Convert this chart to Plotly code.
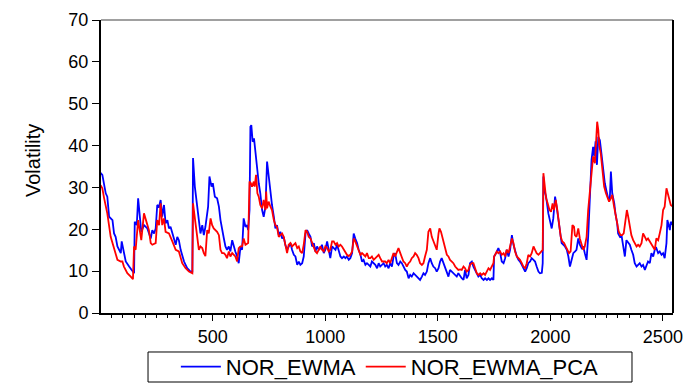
import plotly.graph_objects as go

# NOR_EWMA (blue) - observation index and volatility
ewma_obs = [1, 9, 24, 31, 39, 54, 61, 68, 76, 83, 91, 95, 105, 113, 128, 142, 150, 153, 162, 168,
            176, 182, 194, 201, 209, 224, 231, 239, 246, 253, 261, 268, 275, 283, 290, 298, 305, 312, 327, 335,
            342, 349, 357, 372, 386, 401, 409, 412, 420, 430, 438, 445, 453, 460, 467, 475, 479, 485, 494, 500,
            509, 519, 527, 534, 541, 549, 556, 563, 571, 578, 586, 593, 600, 608, 615, 623, 630, 637, 645, 652,
            657, 663, 667, 671, 677, 683, 689, 697, 704, 711, 719, 726, 734, 741, 748, 756, 763, 771, 778, 785,
            793, 800, 808, 815, 822, 830, 837, 845, 852, 860, 867, 875, 882, 889, 897, 904, 912, 919, 926, 934,
            941, 949, 956, 963, 971, 978, 985, 993, 1000, 1008, 1015, 1022, 1030, 1037, 1045, 1052, 1059, 1067, 1074, 1082,
            1089, 1096, 1104, 1111, 1119, 1126, 1133, 1141, 1148, 1156, 1163, 1170, 1178, 1185, 1193, 1200, 1207, 1215, 1222, 1230,
            1237, 1244, 1252, 1259, 1266, 1273, 1281, 1288, 1296, 1303, 1310, 1318, 1325, 1333, 1340, 1347, 1355, 1362, 1370, 1377,
            1384, 1392, 1399, 1406, 1414, 1421, 1429, 1436, 1443, 1451, 1458, 1466, 1473, 1480, 1488, 1495, 1503, 1510, 1517, 1525,
            1532, 1540, 1547, 1554, 1562, 1569, 1577, 1584, 1591, 1599, 1606, 1614, 1621, 1628, 1636, 1643, 1651, 1658, 1665, 1673,
            1680, 1688, 1695, 1703, 1710, 1718, 1725, 1732, 1740, 1747, 1750, 1755, 1762, 1769, 1777, 1784, 1792, 1799, 1806, 1814,
            1821, 1829, 1836, 1843, 1851, 1858, 1865, 1873, 1880, 1888, 1895, 1902, 1910, 1917, 1925, 1932, 1939, 1947, 1954, 1962,
            1966, 1969, 1973, 1981, 1991, 1999, 2006, 2013, 2021, 2028, 2036, 2043, 2050, 2058, 2065, 2073, 2080, 2087, 2095, 2102,
            2110, 2116, 2124, 2131, 2139, 2146, 2153, 2161, 2168, 2176, 2183, 2190, 2195, 2201, 2207, 2213, 2220, 2227, 2235, 2242,
            2250, 2257, 2264, 2269, 2275, 2284, 2289, 2297, 2301, 2309, 2316, 2323, 2331, 2338, 2346, 2353, 2360, 2368, 2375, 2383,
            2390, 2397, 2405, 2412, 2420, 2427, 2434, 2442, 2449, 2457, 2464, 2471, 2479, 2486, 2494, 2501, 2508, 2516, 2520, 2526,
            2531, 2535, 2544]
ewma_val = [33.5, 33.0, 28.6, 27.8, 23.0, 22.2, 19.0, 18.2, 15.9, 15.1, 14.3, 17.1, 14.3, 12.3, 11.1, 9.9, 9.5, 21.8, 21.0, 27.4,
            23.0, 19.4, 21.0, 20.6, 20.2, 17.8, 19.8, 19.0, 20.2, 25.8, 25.4, 27.0, 23.0, 25.8, 21.4, 22.2, 20.2, 20.6, 17.4, 16.3,
            18.2, 17.4, 15.1, 12.3, 10.7, 9.9, 9.9, 37.0, 30.2, 26.2, 22.2, 19.0, 21.0, 18.6, 20.6, 24.6, 25.4, 32.6, 30.2, 31.0,
            27.8, 27.4, 25.4, 22.2, 19.8, 17.8, 15.9, 15.1, 15.9, 14.7, 17.4, 15.9, 14.7, 13.5, 11.9, 15.9, 15.1, 22.6, 20.6, 21.0,
            19.8, 24.6, 44.5, 44.9, 40.9, 41.7, 38.1, 35.0, 31.0, 28.6, 24.6, 23.0, 25.4, 36.2, 32.6, 29.4, 25.8, 23.0, 20.2, 21.0,
            18.6, 19.4, 17.8, 18.2, 16.3, 15.1, 15.9, 16.7, 15.1, 13.9, 13.5, 11.5, 12.3, 11.5, 11.9, 13.5, 19.0, 19.8, 19.0, 18.2,
            15.9, 16.7, 14.7, 15.9, 15.1, 15.5, 16.3, 14.3, 15.1, 17.1, 15.1, 13.1, 15.9, 15.5, 15.1, 16.3, 15.1, 13.5, 13.1, 13.5,
            13.1, 13.5, 12.7, 13.1, 14.3, 19.0, 17.8, 16.7, 15.1, 13.9, 12.3, 12.7, 11.5, 11.9, 11.5, 11.1, 12.3, 11.9, 11.5, 10.7,
            11.9, 11.1, 11.5, 11.9, 11.1, 11.5, 10.7, 11.9, 11.1, 13.5, 14.3, 11.9, 11.5, 12.3, 11.9, 11.1, 10.3, 9.9, 8.3, 9.1,
            8.7, 9.5, 9.1, 8.7, 8.3, 7.9, 8.7, 9.5, 9.1, 9.9, 11.9, 13.1, 11.9, 11.1, 10.7, 9.9, 10.7, 12.3, 13.1, 11.9,
            11.1, 9.5, 8.7, 10.3, 9.9, 9.5, 9.1, 8.7, 9.5, 8.7, 8.3, 7.9, 10.3, 8.3, 9.1, 11.9, 12.3, 11.1, 10.3, 9.5,
            8.7, 9.1, 8.3, 7.9, 8.3, 7.9, 8.3, 7.9, 8.3, 7.9, 13.5, 13.9, 14.7, 15.5, 14.3, 12.3, 11.9, 13.1, 15.1, 13.5,
            15.1, 18.6, 16.3, 14.7, 13.5, 12.7, 12.3, 11.5, 10.7, 9.9, 10.7, 11.9, 12.3, 13.1, 12.7, 12.3, 11.1, 9.9, 9.5, 9.6,
            11.9, 32.6, 29.4, 27.8, 23.8, 22.2, 20.2, 22.6, 27.8, 25.4, 22.2, 19.0, 16.7, 16.3, 15.9, 15.1, 13.5, 11.1, 12.7, 14.3,
            14.7, 15.1, 17.8, 16.3, 15.5, 15.9, 14.3, 12.7, 18.2, 30.2, 36.6, 39.7, 37.4, 41.0, 35.4, 42.1, 41.3, 38.1, 34.2, 31.0,
            29.0, 27.4, 27.0, 33.8, 28.6, 26.2, 23.8, 21.4, 19.0, 18.2, 18.6, 15.9, 13.5, 17.4, 16.7, 16.3, 15.1, 13.9, 11.9, 11.1,
            11.5, 11.9, 11.1, 11.5, 10.3, 11.1, 12.3, 11.9, 14.3, 13.5, 15.1, 15.5, 14.3, 14.7, 13.9, 14.3, 13.1, 16.7, 22.2, 21.0,
            19.8, 21.8, 21.0]

# NOR_EWMA_PCA (red)
pca_obs = [1, 9, 17, 31, 46, 61, 76, 91, 98, 105, 120, 135, 145, 150, 157, 168, 176, 182, 194, 209,
           216, 224, 231, 246, 253, 261, 268, 275, 283, 290, 305, 320, 335, 349, 364, 379, 394, 409, 412, 423,
           431, 438, 445, 453, 460, 467, 475, 482, 490, 497, 504, 512, 519, 527, 534, 541, 549, 556, 563, 571,
           578, 586, 593, 600, 608, 615, 623, 630, 637, 645, 657, 663, 669, 674, 682, 686, 692, 698, 704, 711,
           719, 726, 734, 737, 741, 748, 756, 763, 771, 778, 785, 793, 800, 808, 815, 822, 830, 837, 845, 852,
           860, 867, 875, 882, 889, 897, 904, 912, 919, 926, 934, 941, 949, 956, 963, 971, 978, 985, 993, 1000,
           1008, 1015, 1022, 1030, 1037, 1045, 1052, 1059, 1067, 1074, 1082, 1089, 1096, 1104, 1111, 1119, 1126, 1133, 1141, 1148,
           1156, 1163, 1170, 1178, 1185, 1193, 1200, 1207, 1215, 1222, 1230, 1237, 1244, 1252, 1259, 1266, 1273, 1281, 1288, 1296,
           1303, 1310, 1318, 1325, 1333, 1340, 1347, 1355, 1362, 1370, 1377, 1384, 1392, 1399, 1406, 1414, 1421, 1429, 1436, 1443,
           1451, 1458, 1466, 1473, 1480, 1488, 1495, 1503, 1507, 1514, 1522, 1529, 1540, 1547, 1554, 1562, 1569, 1577, 1584, 1591,
           1599, 1606, 1614, 1621, 1628, 1636, 1643, 1651, 1658, 1665, 1673, 1680, 1688, 1695, 1703, 1710, 1718, 1725, 1732, 1740,
           1747, 1750, 1755, 1762, 1769, 1777, 1784, 1792, 1799, 1806, 1814, 1821, 1829, 1836, 1843, 1851, 1858, 1865, 1873, 1880,
           1888, 1895, 1902, 1910, 1917, 1925, 1932, 1939, 1947, 1954, 1962, 1966, 1969, 1973, 1981, 1988, 1996, 2003, 2010, 2016,
           2024, 2031, 2039, 2046, 2053, 2061, 2068, 2075, 2083, 2090, 2098, 2105, 2109, 2116, 2124, 2131, 2139, 2146, 2153, 2161,
           2168, 2176, 2183, 2190, 2198, 2204, 2208, 2213, 2217, 2224, 2232, 2239, 2247, 2254, 2261, 2269, 2275, 2282, 2289, 2297,
           2304, 2312, 2319, 2326, 2334, 2340, 2346, 2353, 2360, 2368, 2375, 2383, 2390, 2397, 2405, 2412, 2420, 2427, 2434, 2442,
           2449, 2457, 2464, 2471, 2479, 2486, 2494, 2501, 2508, 2516, 2523, 2531, 2535, 2544]
pca_val = [30.5, 29.8, 27.4, 23.8, 18.2, 15.1, 12.7, 12.3, 12.3, 11.1, 9.5, 8.7, 8.1, 15.9, 15.1, 22.2, 19.0, 17.4, 23.8, 21.0,
           19.8, 16.7, 16.3, 16.7, 22.2, 21.0, 26.2, 21.0, 22.6, 19.4, 19.0, 17.1, 15.1, 14.7, 11.9, 10.7, 9.9, 9.5, 26.2, 21.4,
           18.2, 15.1, 15.9, 15.5, 14.3, 13.6, 19.8, 19.0, 22.6, 21.0, 20.2, 19.8, 19.4, 18.6, 15.1, 14.3, 14.3, 13.9, 13.1, 14.7,
           13.5, 14.3, 13.9, 13.5, 12.3, 15.5, 15.9, 15.9, 17.8, 16.3, 16.7, 31.4, 31.0, 30.2, 31.4, 30.2, 33.0, 28.6, 27.8, 25.8,
           25.0, 27.0, 24.6, 29.0, 25.0, 26.6, 25.4, 24.6, 22.2, 21.0, 20.6, 18.2, 18.6, 19.0, 18.2, 15.9, 14.3, 16.3, 16.7, 15.9,
           16.3, 16.7, 15.5, 15.9, 14.7, 14.3, 16.3, 19.8, 19.4, 18.2, 17.8, 16.7, 15.5, 14.7, 14.3, 15.1, 15.9, 15.1, 14.7, 15.9,
           15.5, 14.7, 15.1, 17.1, 17.1, 16.3, 16.7, 15.9, 16.3, 15.9, 15.1, 14.3, 13.9, 13.6, 13.9, 14.7, 17.8, 17.1, 15.9, 14.7,
           13.9, 14.3, 13.9, 13.5, 14.3, 13.1, 13.1, 13.5, 12.7, 13.1, 13.5, 13.9, 13.1, 12.3, 12.3, 12.3, 11.9, 12.7, 11.9, 13.5,
           14.3, 13.5, 14.7, 15.5, 14.3, 13.1, 12.3, 11.9, 11.1, 11.9, 12.3, 13.1, 13.5, 14.3, 13.9, 13.1, 11.9, 11.5, 11.9, 13.5,
           15.1, 19.4, 20.2, 18.2, 17.1, 16.3, 15.1, 19.0, 20.2, 19.4, 17.8, 15.9, 13.9, 13.5, 12.7, 12.3, 11.9, 11.1, 10.7, 10.3,
           10.4, 10.3, 11.1, 10.7, 9.9, 10.3, 11.5, 11.9, 11.9, 10.7, 9.5, 9.1, 9.5, 9.1, 9.5, 9.1, 9.9, 10.7, 10.3, 11.1,
           11.9, 13.5, 13.9, 14.7, 14.3, 14.7, 13.9, 14.3, 13.5, 15.1, 14.3, 15.9, 17.8, 16.7, 14.7, 13.5, 13.1, 12.7, 11.9, 11.1,
           10.7, 11.9, 13.9, 13.5, 14.3, 15.9, 15.1, 14.3, 13.9, 14.3, 14.7, 15.1, 33.4, 31.8, 27.4, 26.2, 24.6, 24.2, 26.2, 24.6,
           27.0, 24.6, 21.4, 18.2, 17.1, 16.7, 15.9, 15.1, 14.3, 14.7, 21.0, 20.6, 18.6, 18.2, 20.2, 17.8, 16.3, 15.1, 15.9, 18.2,
           24.6, 29.8, 34.2, 37.4, 35.8, 40.5, 45.7, 43.7, 40.1, 38.1, 34.6, 30.2, 28.6, 27.8, 26.6, 27.4, 28.2, 25.8, 23.8, 21.4,
           19.4, 18.6, 18.6, 19.0, 22.2, 24.6, 23.0, 21.0, 18.6, 17.4, 16.7, 15.9, 16.3, 15.9, 16.7, 19.0, 18.2, 17.4, 17.8, 17.1,
           16.3, 15.9, 15.1, 17.8, 17.4, 19.0, 21.0, 24.6, 25.4, 29.8, 28.2, 26.2, 25.8, 25.4]

series_names = ["NOR_EWMA", "NOR_EWMA_PCA"]
y_ticks = [0, 10, 20, 30, 40, 50, 60, 70]
x_ticks = [500, 1000, 1500, 2000, 2500]

fig = go.Figure()
fig.add_trace(go.Scatter(x=ewma_obs, y=ewma_val, mode="lines", name=series_names[0],
                         line=dict(color="#0000FF", width=1.8)))
fig.add_trace(go.Scatter(x=pca_obs, y=pca_val, mode="lines", name=series_names[1],
                         line=dict(color="#FF0000", width=1.8)))

tick_font = dict(family="Liberation Sans, Arial, sans-serif", size=18, color="black")

fig.update_layout(
    width=691, height=385,
    margin=dict(l=101, r=18, t=20, b=72, autoexpand=False),
    paper_bgcolor="white", plot_bgcolor="white",
    showlegend=True,
    legend=dict(orientation="h", x=0.505, xanchor="center", y=-0.184, yanchor="middle",
                borderwidth=0, bgcolor="rgba(0,0,0,0)",
                font=dict(family="Liberation Sans, Arial, sans-serif", size=22, color="black"),
                itemwidth=40, tracegroupgap=0),
    xaxis=dict(range=[3, 2545], tickmode="array", tickvals=x_ticks, ticktext=[str(v) for v in x_ticks],
               ticks="outside", ticklen=6, tickwidth=1, tickcolor="black",
               minor=dict(dtick=50, tick0=0, ticks="outside", ticklen=3, tickcolor="black", tickwidth=1),
               showline=True, linecolor="black", linewidth=2, showgrid=False, zeroline=False,
               tickfont=tick_font, automargin=False),
    yaxis=dict(range=[0, 70], tickmode="array", tickvals=y_ticks, ticktext=[str(v) for v in y_ticks],
               ticks="outside", ticklen=7, tickwidth=1, tickcolor="black",
               showline=True, linecolor="black", linewidth=2, showgrid=False, zeroline=False,
               tickfont=tick_font, automargin=False),
    shapes=[
        dict(type="line", xref="paper", yref="paper", x0=0, x1=1, y0=1, y1=1,
             line=dict(color="#808080", width=1.5)),
        dict(type="line", xref="paper", yref="paper", x0=1, x1=1, y0=0, y1=1,
             line=dict(color="black", width=2)),
        # legend frame
        dict(type="rect", xref="paper", yref="paper", x0=0.0822, x1=0.9283, y0=-0.2355, y1=-0.1331,
             line=dict(color="black", width=1), fillcolor="rgba(0,0,0,0)", layer="below"),
    ],
    annotations=[
        dict(text="Volatility", xref="paper", yref="paper", x=-0.12, y=0.52,
             textangle=-90, showarrow=False, xanchor="center", yanchor="middle",
             font=dict(family="Liberation Sans Narrow, Liberation Sans, Arial, sans-serif", size=20, color="black"))
    ],
)

fig.write_html("out.html")
